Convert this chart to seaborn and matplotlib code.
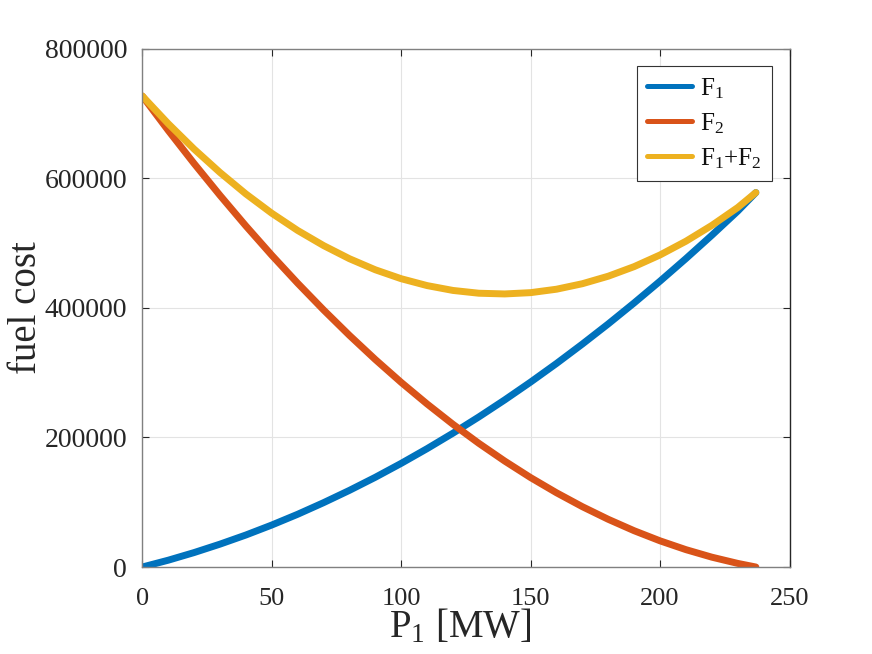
import numpy as np
import pandas as pd
import matplotlib
matplotlib.use("Agg")
import matplotlib.pyplot as plt
import seaborn as sns

# values
p1 = [0, 10, 20, 30, 40, 50, 60, 70, 80, 90, 100, 110, 120,
      130, 140, 150, 160, 170, 180, 190, 200, 210, 220, 230, 237]
f1 = [0, 10500, 22300, 35300, 49400, 64800, 81400, 99300, 118300,
      138500, 160000, 182700, 206600, 231700, 258000, 285500, 314200,
      344200, 375300, 407700, 441300, 476100, 512100, 549300, 578000]
f2 = [727000, 673900, 622800, 573700, 526500, 481300, 438100, 396900,
      357600, 320300, 285000, 251700, 220300, 190900, 163500, 138000,
      114600, 93100, 73600, 56000, 40400, 26800, 15200, 5600, 0]
labels = ["F$_1$", "F$_2$", "F$_1$+F$_2$"]
colors = ["#0072BD", "#D95319", "#EDB120"]
xticks = [0, 50, 100, 150, 200, 250]
yticks = [0, 200000, 400000, 600000, 800000]

sns.set_theme(style="whitegrid")
plt.rcParams["font.family"] = ["Liberation Serif", "DejaVu Serif"]
plt.rcParams["mathtext.default"] = "regular"

f_sum = [a + b for a, b in zip(f1, f2)]
df = pd.DataFrame({
    "P1": p1 * 3,
    "cost": f1 + f2 + f_sum,
    "series": [labels[0]] * len(p1) + [labels[1]] * len(p1) + [labels[2]] * len(p1),
})

fig = plt.figure(figsize=(8.72, 6.54), dpi=100)
ax = fig.add_axes([0.1632, 0.1330, 0.7422, 0.7925])

sns.lineplot(data=df, x="P1", y="cost", hue="series", hue_order=labels,
             palette=colors, linewidth=5, sort=False, ax=ax)

ax.set_xlim(0, 250)
ax.set_ylim(0, 800000)
ax.set_xticks(xticks)
ax.set_yticks(yticks)
ax.set_xticklabels([str(t) for t in xticks])
ax.set_yticklabels([str(t) for t in yticks])

ax.grid(True, color="#e3e3e3", linewidth=0.8)
for side in ["left", "bottom", "top"]:
    ax.spines[side].set_color("#808080")
ax.spines["right"].set_color("#262626")
for s in ax.spines.values():
    s.set_linewidth(1.0)
    s.set_visible(True)

ax.tick_params(axis="both", direction="in", length=5, width=0.8,
               color="#262626", labelcolor="#262626", labelsize=20,
               top=True, right=True, bottom=True, left=True)
ax.tick_params(axis="x", labelsize=19, pad=15)
ax.tick_params(axis="y", pad=11)

ax.set_xlabel("P$_1$ [MW]", fontsize=28, color="#262626")
ax.set_ylabel("fuel cost", fontsize=28, color="#262626")
ax.xaxis.set_label_coords(0.491, -0.079)
ax.yaxis.set_label_coords(-0.150, 0.5)

leg = ax.legend(loc="upper right", bbox_to_anchor=(0.9725, 0.9666),
                borderaxespad=0, fontsize=18, frameon=True, fancybox=False,
                edgecolor="#333333", framealpha=1, handlelength=1.8,
                handletextpad=0.35, labelspacing=0.42, borderpad=0.4)
leg.get_frame().set_linewidth(0.8)
for line in leg.get_lines():
    line.set_linewidth(3.6)
for t in leg.get_texts():
    t.set_color("#111111")

fig.savefig("out.png", dpi=100)
